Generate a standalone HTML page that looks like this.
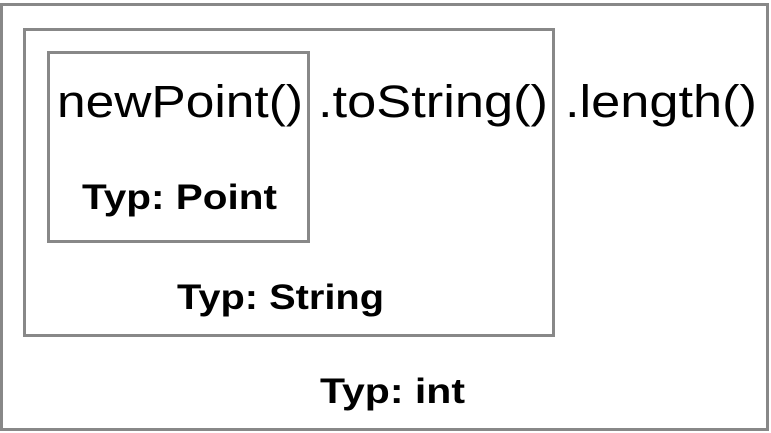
<!DOCTYPE html>
<html><head><meta charset="utf-8"><style>html,body{margin:0;padding:0;background:#fff}svg{display:block}</style></head>
<body>
<svg width="771" height="433" viewBox="0 0 771 433" xmlns="http://www.w3.org/2000/svg">
<g fill="none" stroke="#888" stroke-width="3">
<rect x="1.5" y="4.5" width="766" height="425"/>
<rect x="24.5" y="29.5" width="529" height="306"/>
<rect x="48.5" y="52.5" width="260" height="189"/>
</g>
<g font-family="Liberation Sans, sans-serif" fill="#000">
<text x="57" y="117" font-size="45" textLength="246" lengthAdjust="spacingAndGlyphs">newPoint()</text>
<text x="318" y="117" font-size="45" textLength="230" lengthAdjust="spacingAndGlyphs">.toString()</text>
<text x="565" y="117" font-size="45" textLength="192" lengthAdjust="spacingAndGlyphs">.length()</text>
<g font-weight="bold" font-size="35">
<text x="82" y="209" textLength="195" lengthAdjust="spacingAndGlyphs">Typ: Point</text>
<text x="177" y="309" textLength="207" lengthAdjust="spacingAndGlyphs">Typ: String</text>
<text x="320" y="403" textLength="145" lengthAdjust="spacingAndGlyphs">Typ: int</text>
</g>
</g>
</svg>
</body></html>
